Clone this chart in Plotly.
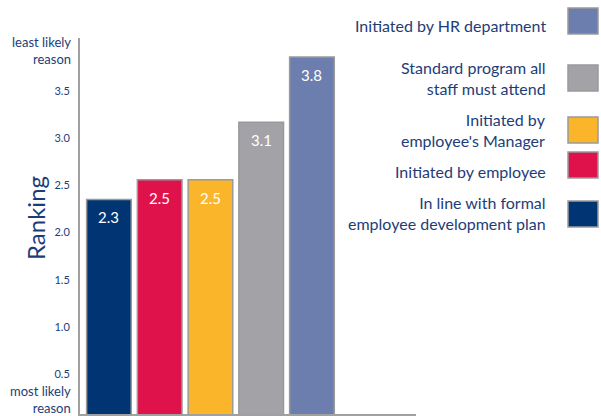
import plotly.graph_objects as go

categories = ["In line with formal<br>employee development plan",
              "Initiated by employee",
              "Initiated by<br>employee's Manager",
              "Standard program all<br>staff must attend",
              "Initiated by HR department"]
values = [2.35, 2.56, 2.56, 3.17, 3.86]
value_labels = ["2.3", "2.5", "2.5", "3.1", "3.8"]
colors = ["#003473", "#E0124B", "#FBB52B", "#A3A2A7", "#6C7EAE"]
tick_vals = [0.5, 1.0, 1.5, 2.0, 2.5, 3.0, 3.5]
tick_text = ["0.5", "1.0", "1.5", "2.0", "2.5", "3.0", "3.5"]
end_labels = ["most likely<br>reason", "least likely<br>reason"]
end_vals = [0.235, 3.93]

FONT = "Lato"
NAVY = "#1E3D78"

xs = list(range(len(categories)))
fig = go.Figure()
fig.add_trace(go.Bar(
    x=xs, y=values,
    marker=dict(color=colors, line=dict(color="#9A9A9A", width=1.5)),
    width=0.88,
    showlegend=False, hoverinfo="skip",
))

annotations = []
shapes = []
# value labels inside bar tops
for xv, v, lab in zip(xs, values, value_labels):
    annotations.append(dict(
        text=lab, xref="x", yref="y", x=xv, y=v, yshift=-18,
        xanchor="center", yanchor="middle", showarrow=False,
        font=dict(family=FONT, size=15, color="white")))
# end labels of ranking axis
for lab, v in zip(end_labels, end_vals):
    annotations.append(dict(
        text=lab, xref="paper", yref="y", x=(73 - 80) / 336, y=v,
        xanchor="right", yanchor="middle", align="right", showarrow=False,
        font=dict(family=FONT, size=13, color=NAVY)))
# axis title
annotations.append(dict(
    text="Ranking", xref="paper", yref="paper", x=(35 - 80) / 336,
    y=(414 - 218) / 376, xanchor="center", yanchor="middle", textangle=-90,
    showarrow=False, font=dict(family=FONT, size=24, color=NAVY)))

# legend drawn on the right, text to the left of swatches (reverse order)
legend_y = [25, 78, 130, 171, 213]
for i, cat in enumerate(categories[::-1]):
    yc = legend_y[i]
    annotations.append(dict(
        text=cat, xref="paper", yref="paper",
        x=(548 - 80) / 336, y=(414 - yc) / 376, xanchor="right", yanchor="middle",
        align="right", showarrow=False,
        font=dict(family=FONT, size=16, color=NAVY)))
swatch_c = [21, 78, 130, 165, 214]
for i, col in enumerate(colors[::-1]):
    yc = swatch_c[i]
    shapes.append(dict(
        type="rect", xref="paper", yref="paper",
        x0=(568 - 80) / 336, x1=(598 - 80) / 336,
        y0=(414 - (yc + 13)) / 376, y1=(414 - (yc - 13)) / 376,
        fillcolor=col, line=dict(color="#9A9A9A", width=1.5)))

fig.update_layout(
    width=601, height=416,
    margin=dict(l=80, r=185, t=38, b=2),
    paper_bgcolor="white", plot_bgcolor="white",
    font=dict(family=FONT, color=NAVY),
    shapes=shapes, annotations=annotations,
    xaxis=dict(range=[-0.57, 6.05], showticklabels=False, showgrid=False,
               zeroline=False, showline=True, linecolor="#A0A0A0", linewidth=2,
               ticks=""),
    yaxis=dict(range=[0.076, 4.062], tickvals=tick_vals, ticktext=tick_text,
               showgrid=False, zeroline=False, showline=True,
               linecolor="#A0A0A0", linewidth=2, ticks="",
               tickfont=dict(family=FONT, size=11, color=NAVY),
               ticklabelstandoff=6),
)

fig.write_html("out.html")
